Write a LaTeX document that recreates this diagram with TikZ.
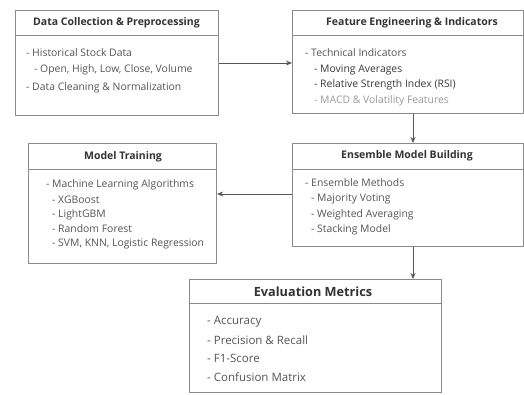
\documentclass[tikz,border=0pt]{standalone}
\usepackage{fontspec}
\setmainfont{Open Sans}
\usetikzlibrary{arrows.meta}
\definecolor{bord}{HTML}{8A8A8A}
\definecolor{txt}{HTML}{555555}
\definecolor{ttl}{HTML}{333333}
\definecolor{dark}{HTML}{3A3A3A}
\definecolor{light}{HTML}{9A9A9A}
\definecolor{arrc}{HTML}{555555}
\tikzset{
  box/.style={draw=bord, line width=1.1pt, fill=white, rectangle, inner sep=0pt, anchor=north west},
  sep/.style={draw=bord, line width=0.9pt},
  ttlnode/.style={font=\bfseries\fontsize{10.5}{12}\selectfont, text=ttl, inner sep=0pt},
  item/.style={anchor=west, inner sep=0pt, font=\fontsize{10.4}{12}\selectfont, text=txt},
  evitem/.style={item, font=\fontsize{11.5}{13}\selectfont},
  arr/.style={draw=arrc, line width=0.9pt, -{Stealth[length=6pt,width=5pt]}}
}
\begin{document}
\begin{tikzpicture}[x=1pt,y=-1pt]
\useasboundingbox (0,0) rectangle (524,395);
% Box 1
\node[box, minimum width=203pt, minimum height=105pt] (b1) at (15,10) {};
\draw[sep] ([yshift=-25pt]b1.north west) -- ([yshift=-25pt]b1.north east);
\node[ttlnode] (b1t) at (116.5,23) {Data Collection \& Preprocessing};
\node[item] (b1a) at (26,53) {- Historical Stock Data};
\node[item] (b1b) at (34,70) {- Open, High, Low, Close, Volume};
\node[item] (b1c) at (26,88) {- Data Cleaning \& Normalization};
% Box 2
\node[box, minimum width=231pt, minimum height=103pt] (b2) at (292,10) {};
\draw[sep] ([yshift=-25pt]b2.north west) -- ([yshift=-25pt]b2.north east);
\node[ttlnode] (b2t) at (412,23) {Feature Engineering \& Indicators};
\node[item] (b2a) at (305,53) {- Technical Indicators};
\node[item, text=dark] (b2b) at (314,69.5) {- Moving Averages};
\node[item, text=dark] (b2c) at (314,85) {- Relative Strength Index (RSI)};
\node[item, text=light] (b2d) at (314,100.5) {- MACD \& Volatility Features};
% Box 3
\node[box, minimum width=188pt, minimum height=120pt] (b3) at (28,143) {};
\draw[sep] ([yshift=-26pt]b3.north west) -- ([yshift=-26pt]b3.north east);
\node[ttlnode] (b3t) at (123,157) {Model Training};
\node[item] (b3a) at (46,185) {- Machine Learning Algorithms};
\node[item] (b3b) at (52,200) {- XGBoost};
\node[item] (b3c) at (52,214.5) {- LightGBM};
\node[item] (b3d) at (52,229) {- Random Forest};
\node[item] (b3e) at (52,244) {- SVM, KNN, Logistic Regression};
% Box 4
\node[box, minimum width=231pt, minimum height=103pt] (b4) at (292,143) {};
\draw[sep] ([yshift=-26pt]b4.north west) -- ([yshift=-26pt]b4.north east);
\node[ttlnode] (b4t) at (407,156) {Ensemble Model Building};
\node[item] (b4a) at (305,183) {- Ensemble Methods};
\node[item] (b4b) at (311,199) {- Majority Voting};
\node[item] (b4c) at (311,215) {- Weighted Averaging};
\node[item] (b4d) at (311,230) {- Stacking Model};
% Box 5
\node[box, minimum width=252pt, minimum height=113pt] (b5) at (189,279) {};
\draw[sep] ([yshift=-24pt]b5.north west) -- ([yshift=-24pt]b5.north east);
\node[ttlnode, font=\bfseries\fontsize{12.7}{14}\selectfont] (b5t) at (313,292) {Evaluation Metrics};
\node[evitem] (b5a) at (207,322) {- Accuracy};
\node[evitem] (b5b) at (207,340) {- Precision \& Recall};
\node[evitem] (b5c) at (207,358) {- F1-Score};
\node[evitem] (b5d) at (207,377) {- Confusion Matrix};
% Connectors
\coordinate (ax) at (413,0);
\draw[arr] (b1.east |- 0,63) -- (b2.west |- 0,63);
\draw[arr] (b2.south -| ax) -- (b4.north -| ax);
\draw[arr] (b4.west |- 0,194) -- (b3.east |- 0,194);
\draw[arr] (b4.south -| ax) -- (b5.north -| ax);
\end{tikzpicture}
\end{document}
